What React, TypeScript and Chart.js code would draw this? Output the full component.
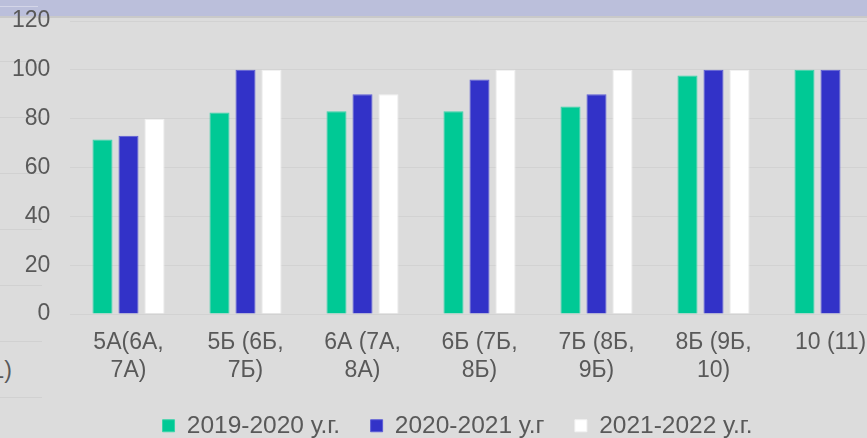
import React, { useEffect, useRef } from "react";
import { Chart, registerables } from "chart.js";

Chart.register(...registerables);

const categories: string[][] = [
  ["5А(6А,", "7А)"],
  ["5Б (6Б,", "7Б)"],
  ["6А (7А,", "8А)"],
  ["6Б (7Б,", "8Б)"],
  ["7Б (8Б,", "9Б)"],
  ["8Б (9Б,", "10)"],
  ["10 (11)"],
];
const seriesNames = ["2019-2020 у.г.", "2020-2021 у.г", "2021-2022 у.г."];
const values2019: (number | null)[] = [71.5, 82.5, 83, 83, 85, 97.7, 100];
const values2020: (number | null)[] = [73, 100, 90, 96, 90, 100, 100];
const values2021: (number | null)[] = [80, 100, 90, 100, 100, 100, null];
const yTicks = [0, 20, 40, 60, 80, 100, 120];

const TEXT = "#595959";
const FONT = "'Liberation Sans', Arial, sans-serif";

export default function App() {
  const ref = useRef<HTMLCanvasElement | null>(null);
  useEffect(() => {
    document.body.style.margin = "0";
    document.body.style.overflow = "hidden";
    const canvas = ref.current!;
    const chart = new Chart(canvas, {
      type: "bar",
      data: {
        labels: categories,
        datasets: [
          { label: seriesNames[0], data: values2019, backgroundColor: "#00c995", borderColor: "#3ad3a9", borderWidth: 1 },
          { label: seriesNames[1], data: values2020, backgroundColor: "#3232c8", borderColor: "#5c5cd6", borderWidth: 1 },
          { label: seriesNames[2], data: values2021, backgroundColor: "#ffffff", borderColor: "#f2f2f2", borderWidth: 1 },
        ],
      },
      options: {
        responsive: false,
        animation: false,
        devicePixelRatio: 1,
        layout: { padding: { top: 21, left: 26, right: 87, bottom: 0 } },
        datasets: { bar: { categoryPercentage: 0.667, barPercentage: 0.77 } },
        plugins: {
          tooltip: { enabled: false },
          legend: {
            position: "bottom",
            labels: {
              color: TEXT,
              font: { family: FONT, size: 24.5 },
              boxWidth: 12,
              boxHeight: 12,
              padding: 30.5,
            },
          },
        },
        scales: {
          x: {
            grid: { display: false },
            border: { display: false },
            ticks: { color: TEXT, font: { family: FONT, size: 23 }, padding: 7, maxRotation: 0, autoSkip: false },
            afterFit: (s: any) => { s.height = 69; },
          },
          y: {
            min: 0,
            max: 120,
            afterBuildTicks: (s: any) => { s.ticks = yTicks.map((v) => ({ value: v })); },
            grid: { color: "#d2d2d2", drawTicks: false, lineWidth: 1 },
            border: { display: false },
            ticks: { color: TEXT, font: { family: FONT, size: 23 }, mirror: true, crossAlign: "far", padding: -58 },
            afterFit: (s: any) => { s.width = 44; s.paddingTop = 0; s.paddingBottom = 0; },
          },
        },
      },
    });
    return () => chart.destroy();
  }, []);

  return (
    <div style={{ position: "relative", width: 867, height: 438, overflow: "hidden", background: "#dcdcdc", fontFamily: FONT }}>
      <div style={{ position: "absolute", left: 0, top: 0, width: 42, height: 438,
        backgroundImage: "repeating-linear-gradient(to bottom, transparent 0px, transparent 5px, #d1d1d1 5px, #d1d1d1 6px, transparent 6px, transparent 56px)" }} />
      <div style={{ position: "absolute", left: 0, top: 0, width: 867, height: 16, background: "#bbbfdb", borderBottom: "2px solid #c9c9c9" }} />
      <div style={{ position: "absolute", left: 0, top: 6, width: 38, height: 1, background: "#d4d6e8" }} />
      <div style={{ position: "absolute", right: 855, top: 357, whiteSpace: "nowrap", color: TEXT, fontSize: 23 }}>(11)</div>
      <canvas ref={ref} width={976} height={448} style={{ position: "absolute", left: 0, top: 0 }} />
    </div>
  );
}
